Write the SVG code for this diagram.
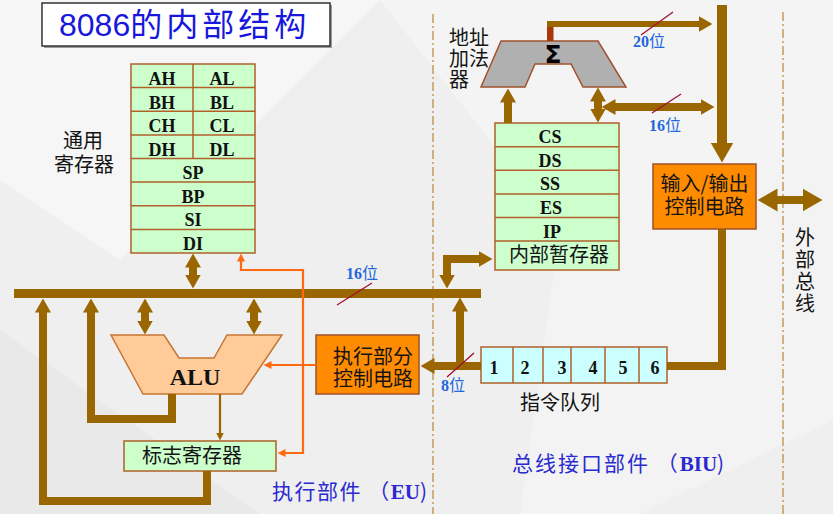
<svg xmlns="http://www.w3.org/2000/svg" width="833" height="514" viewBox="0 0 833 514">
<defs>
<style>
.cn{font-family:"Noto Sans CJK SC",sans-serif;font-size:20px;fill:#141414}
.reg{font-family:"Liberation Serif",serif;font-weight:bold;font-size:18px;text-anchor:middle;fill:#111}
.lbl{font-family:"Liberation Serif","Noto Sans CJK SC",serif;font-size:16px;fill:#2266dd}
.lbl .b{font-weight:bold}
.bl{fill:#2a2ad0;font-family:"Noto Sans CJK SC",sans-serif;font-size:21px}
.bl .e{font-family:"Liberation Serif",serif;font-weight:bold}
.thick{fill:none;stroke:#996600;stroke-width:8;stroke-linejoin:miter}
.org{fill:none;stroke:#ff6a10;stroke-width:2.2}
.slash{stroke:#a01030;stroke-width:1.3}
.dash{stroke:#c8a064;stroke-width:1.6;stroke-dasharray:9 3 2 3}
.box{stroke:#b0602a;stroke-width:1.5}
.green{fill:#ccffcc}
</style>
<marker id="a" markerUnits="userSpaceOnUse" viewBox="0 0 14 16" markerWidth="14" markerHeight="16" refX="0.5" refY="8" orient="auto-start-reverse"><path d="M0,0L14,8L0,16z" fill="#996600"/></marker>
<marker id="A" markerUnits="userSpaceOnUse" viewBox="0 0 20 23" markerWidth="20" markerHeight="23" refX="0.5" refY="11.5" orient="auto-start-reverse"><path d="M0,0L20,11.5L0,23z" fill="#996600"/></marker>
<marker id="o" markerUnits="userSpaceOnUse" viewBox="0 0 8 8" markerWidth="8" markerHeight="8" refX="0.5" refY="4" orient="auto-start-reverse"><path d="M0,0L8,4L0,8z" fill="#ff6a10"/></marker>
<marker id="t" markerUnits="userSpaceOnUse" viewBox="0 0 8 8" markerWidth="8" markerHeight="8" refX="0.5" refY="4" orient="auto-start-reverse"><path d="M0,0L8,4L0,8z" fill="#996600"/></marker>
</defs>

<!-- background -->
<rect x="0" y="0" width="833" height="514" fill="#efefef"/>
<polygon points="0,0 380,0 120,260 0,180" fill="#f6f6f6"/>
<polygon points="380,0 833,0 833,140 560,230" fill="#f4f4f4"/>
<polygon points="0,330 260,514 0,514" fill="#e9e9e9"/>
<polygon points="560,230 833,140 833,420 640,514 520,514" fill="#f3f3f3"/>

<!-- dashed boundaries -->
<line class="dash" x1="433" y1="14" x2="433" y2="514"/>
<line class="dash" x1="783" y1="12" x2="783" y2="514"/>

<!-- title -->
<g id="title">
<rect x="44" y="5" width="288" height="43" fill="#9a9a9a"/>
<rect x="42" y="3" width="288" height="43" fill="#ffffff" stroke="#333" stroke-width="1.5"/>
<text x="59" y="36" font-family="Liberation Sans,Noto Sans CJK SC,sans-serif" font-size="32" fill="#1818dc">8086<tspan font-family="Noto Sans CJK SC,sans-serif" letter-spacing="4">的内部结构</tspan></text>
</g>

<!-- general registers -->
<g id="general-registers">
<rect class="box green" x="131" y="64" width="124" height="189"/>
<g class="box" fill="none">
<line x1="131" y1="87.6" x2="255" y2="87.6"/>
<line x1="131" y1="111.3" x2="255" y2="111.3"/>
<line x1="131" y1="134.9" x2="255" y2="134.9"/>
<line x1="131" y1="158.5" x2="255" y2="158.5"/>
<line x1="131" y1="182.1" x2="255" y2="182.1"/>
<line x1="131" y1="205.8" x2="255" y2="205.8"/>
<line x1="131" y1="229.4" x2="255" y2="229.4"/>
<line x1="193" y1="64" x2="193" y2="158.5"/>
</g>
<text class="reg" x="162" y="85">AH</text><text class="reg" x="222" y="85">AL</text>
<text class="reg" x="162" y="108.5">BH</text><text class="reg" x="222" y="108.5">BL</text>
<text class="reg" x="162" y="132">CH</text><text class="reg" x="222" y="132">CL</text>
<text class="reg" x="162" y="155.5">DH</text><text class="reg" x="222" y="155.5">DL</text>
<text class="reg" x="193" y="179">SP</text>
<text class="reg" x="193" y="202.8">BP</text>
<text class="reg" x="193" y="226.4">SI</text>
<text class="reg" x="193" y="250">DI</text>
</g>
<g id="general-label">
<text class="cn" x="63" y="148">通用</text>
<text class="cn" x="54" y="172">寄存器</text>
</g>

<!-- ALU -->
<g id="alu">
<polygon points="111,335 164,335 179,358 214,358 227,335 282,335 242,394 143,394" fill="#ffcc99" stroke="#c87533" stroke-width="1.5"/>
<text x="195" y="385" font-family="Liberation Serif,serif" font-weight="bold" font-size="24" text-anchor="middle" fill="#111">ALU</text>
</g>

<!-- flag register -->
<g id="flag-register">
<rect class="box green" x="124" y="441" width="152" height="30"/>
<text class="cn" x="142" y="463">标志寄存器</text>
</g>

<!-- EU control -->
<g id="eu-control">
<rect x="316" y="335" width="103" height="59" fill="#ff8c00" stroke="#a0522d" stroke-width="1.5"/>
<text class="cn" x="333" y="364">执行部分</text>
<text class="cn" x="333" y="386">控制电路</text>
</g>

<!-- address adder -->
<g id="address-adder">
<polygon points="501,41 598,41 626,87 583,87 571,64 535,64 525,87 481,87" fill="#b0b0b0" stroke="#a0522d" stroke-width="1.5"/>
<text x="553" y="63" font-family="DejaVu Sans,sans-serif" font-weight="bold" font-size="25" text-anchor="middle" fill="#000">Σ</text>
<text class="cn" x="449" y="45" font-size="18">地址</text>
<text class="cn" x="449" y="66" font-size="18">加法</text>
<text class="cn" x="449" y="87" font-size="18">器</text>
</g>

<!-- segment registers -->
<g id="segment-registers">
<rect class="box green" x="495" y="123" width="124" height="147"/>
<g class="box" fill="none">
<line x1="495" y1="146.7" x2="619" y2="146.7"/>
<line x1="495" y1="170.3" x2="619" y2="170.3"/>
<line x1="495" y1="194" x2="619" y2="194"/>
<line x1="495" y1="217.5" x2="619" y2="217.5"/>
<line x1="495" y1="241" x2="619" y2="241"/>
</g>
<text class="reg" x="550" y="143">CS</text>
<text class="reg" x="550" y="166.7">DS</text>
<text class="reg" x="550" y="190.3">SS</text>
<text class="reg" x="551" y="214">ES</text>
<text class="reg" x="552" y="237.5">IP</text>
<text class="cn" x="509" y="262">内部暂存器</text>
</g>

<!-- IO control -->
<g id="io-control">
<rect x="653" y="164" width="103" height="65" fill="#ff8c00" stroke="#a0522d" stroke-width="1.5"/>
<text class="cn" x="704.5" y="191" font-size="19" text-anchor="middle">输入/输出</text>
<text class="cn" x="704.5" y="214" font-size="19" text-anchor="middle">控制电路</text>
</g>

<!-- instruction queue -->
<g id="instruction-queue">
<rect x="481" y="347" width="186" height="36" fill="#ccffff" stroke="#b0602a" stroke-width="1.5"/>
<g class="box" fill="none">
<line x1="513" y1="347" x2="513" y2="383"/>
<line x1="543" y1="347" x2="543" y2="383"/>
<line x1="571" y1="347" x2="571" y2="383"/>
<line x1="605" y1="347" x2="605" y2="383"/>
<line x1="639" y1="347" x2="639" y2="383"/>
</g>
<g class="reg" font-size="17">
<text x="494" y="374">1</text><text x="525" y="374">2</text><text x="562" y="374">3</text>
<text x="593" y="374">4</text><text x="623" y="374">5</text><text x="655" y="374">6</text>
</g>
<text class="cn" x="520" y="410">指令队列</text>
</g>

<!-- external bus label -->
<g id="external-bus">
<text class="cn" x="805" y="245" font-size="18" text-anchor="middle">外</text>
<text class="cn" x="805" y="267" font-size="18" text-anchor="middle">部</text>
<text class="cn" x="805" y="289" font-size="18" text-anchor="middle">总</text>
<text class="cn" x="805" y="311" font-size="18" text-anchor="middle">线</text>
</g>

<!-- section labels -->
<g id="section-labels">
<text class="bl" x="272" y="499"><tspan letter-spacing="1.5">执行部件 （</tspan><tspan class="e">EU</tspan>)</text>
<text class="bl" x="512" y="471"><tspan letter-spacing="2">总线接口部件 （</tspan><tspan class="e">BIU</tspan>)</text>
</g>

<!-- connectors -->
<g id="connectors">
<!-- internal bus -->
<rect x="14" y="289" width="467" height="9" fill="#996600"/>
<!-- adder output 20 bit -->
<rect x="547" y="24" width="6.5" height="17" fill="#a8380c"/>
<path class="thick" style="stroke-width:6" d="M547,24 H699" marker-end="url(#a)"/>
<!-- main vertical to IO -->
<path class="thick" style="stroke-width:10" d="M722,5 V143" marker-end="url(#A)"/>
<!-- 16 bit to adder/segments -->
<path class="thick" d="M615,107 H701" marker-start="url(#a)" marker-end="url(#a)"/>
<path class="thick" d="M598,101 V109" marker-start="url(#a)" marker-end="url(#a)"/>
<!-- CS to adder -->
<path class="thick" d="M508,123 V102" marker-end="url(#a)"/>
<!-- IO to queue -->
<path class="thick" d="M722,229 V366 H667"/>
<!-- external double arrow -->
<path class="thick" d="M777,200 H803" marker-start="url(#A)" marker-end="url(#A)"/>
<!-- queue to EU control -->
<path class="thick" d="M481,366 H434" marker-end="url(#a)"/>
<!-- queue to bus -->
<path class="thick" d="M460,366 V311" marker-end="url(#a)"/>
<!-- bus to internal temp register -->
<path class="thick" d="M447,275 V259 H479" marker-start="url(#a)" marker-end="url(#a)"/>
<!-- DI to bus -->
<path class="thick" d="M193,267 V275" marker-start="url(#a)" marker-end="url(#a)"/>
<!-- bus to ALU -->
<path class="thick" d="M145,312 V321" marker-start="url(#a)" marker-end="url(#a)"/>
<path class="thick" d="M254,312 V321" marker-start="url(#a)" marker-end="url(#a)"/>
<!-- ALU result to bus -->
<path class="thick" d="M172,394 V419 H91 V312" marker-end="url(#a)"/>
<!-- flags to bus -->
<path class="thick" d="M207,471 V501 H43 V312" marker-end="url(#a)"/>
<!-- ALU to flags -->
<path d="M220,394 V433" fill="none" stroke="#996600" stroke-width="2.2" marker-end="url(#t)"/>
<!-- control lines -->
<path class="org" d="M316,365 H271" marker-end="url(#o)"/>
<path class="org" d="M285,453 H303 V270 H241 V261" marker-start="url(#o)" marker-end="url(#o)"/>
<!-- width slashes -->
<line class="slash" x1="641" y1="35" x2="673" y2="12"/>
<line class="slash" x1="652" y1="113" x2="681" y2="94"/>
<line class="slash" x1="337" y1="305" x2="372" y2="283"/>
<line class="slash" x1="447" y1="377" x2="474" y2="353"/>
</g>

<!-- width labels -->
<g id="width-labels">
<text class="lbl" x="633" y="47"><tspan class="b">20</tspan>位</text>
<text class="lbl" x="649" y="131"><tspan class="b">16</tspan>位</text>
<text class="lbl" x="346" y="279"><tspan class="b">16</tspan>位</text>
<text class="lbl" x="441" y="391"><tspan class="b">8</tspan>位</text>
</g>
</svg>
